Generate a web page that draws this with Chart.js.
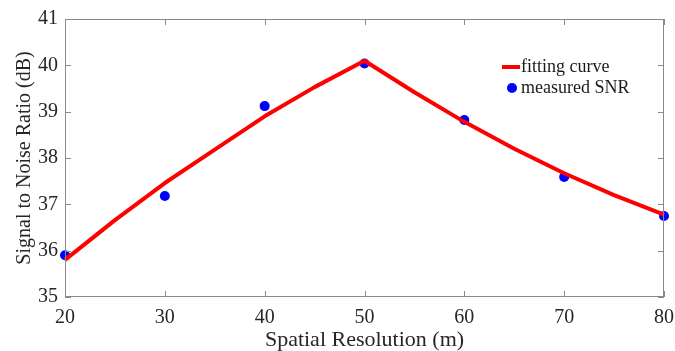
<!DOCTYPE html>
<html>
<head>
<meta charset="utf-8">
<script src="https://cdn.jsdelivr.net/npm/chart.js@4/dist/chart.umd.min.js"></script>
<style>
html,body{margin:0;padding:0;background:#fff;}
#wrap{width:675px;height:351px;position:relative;}
</style>
</head>
<body>
<div id="wrap"><canvas id="c" width="675" height="351"></canvas></div>
<script>
const resolution = [20, 30, 40, 50, 60, 70, 80];
const measuredSNR = [35.90, 37.18, 39.12, 40.04, 38.82, 37.59, 36.75];
const fitResolution = [20, 25, 30, 35, 40, 45, 50, 55, 60, 65, 70, 75, 80];
const fitSNR = [35.80, 36.66, 37.46, 38.18, 38.90, 39.53, 40.10, 39.42, 38.78, 38.20, 37.67, 37.20, 36.78];
const xTicks = [20, 30, 40, 50, 60, 70, 80];
const yTicks = [35, 36, 37, 38, 39, 40, 41];
const seriesNames = ['fitting curve', 'measured SNR'];

const FONT = "'Liberation Serif', 'Times New Roman', serif";

const boxPlugin = {
  id: 'boxTicks',
  afterDatasetsDraw(chart) {
    const {ctx, chartArea: a, scales: {x, y}} = chart;
    ctx.save();
    ctx.strokeStyle = '#8a8a8a';
    ctx.lineWidth = 1;
    ctx.strokeRect(a.left + 0.5, a.top + 0.5, a.right - a.left - 1, a.bottom - a.top - 1);
    const L = 6;
    ctx.beginPath();
    xTicks.forEach(v => {
      const px = Math.round(x.getPixelForValue(v)) + 0.5;
      ctx.moveTo(px, a.bottom); ctx.lineTo(px, a.bottom - L);
      ctx.moveTo(px, a.top); ctx.lineTo(px, a.top + L);
    });
    yTicks.forEach(v => {
      const py = Math.round(y.getPixelForValue(v)) + 0.5;
      ctx.moveTo(a.left, py); ctx.lineTo(a.left + L, py);
      ctx.moveTo(a.right, py); ctx.lineTo(a.right - L, py);
    });
    ctx.stroke();
    ctx.restore();
  },
  afterDraw(chart) {
    const {ctx} = chart;
    const ds = chart.data.datasets;
    ctx.save();
    ctx.font = '18px ' + FONT;
    ctx.fillStyle = '#1a1a1a';
    ctx.textBaseline = 'middle';
    const lx = 502, ly1 = 67, ly2 = 88;
    ctx.strokeStyle = ds[0].borderColor;
    ctx.lineWidth = 4;
    ctx.beginPath(); ctx.moveTo(lx, ly1); ctx.lineTo(lx + 18, ly1); ctx.stroke();
    ctx.fillText(ds[0].label, lx + 19, ly1);
    ctx.fillStyle = ds[1].backgroundColor;
    ctx.beginPath(); ctx.arc(lx + 10, ly2, 5, 0, Math.PI * 2); ctx.fill();
    ctx.fillStyle = '#1a1a1a';
    ctx.fillText(ds[1].label, lx + 19, ly2);
    ctx.restore();
  }
};

new Chart(document.getElementById('c'), {
  type: 'scatter',
  data: {
    datasets: [
      {
        label: seriesNames[0],
        data: fitResolution.map((v, i) => ({x: v, y: fitSNR[i]})),
        showLine: true,
        borderColor: '#ff0000',
        backgroundColor: '#ff0000',
        borderWidth: 4,
        borderJoinStyle: 'round',
        pointRadius: 0,
        tension: 0,
        clip: false
      },
      {
        label: seriesNames[1],
        data: resolution.map((v, i) => ({x: v, y: measuredSNR[i]})),
        showLine: false,
        borderColor: '#0000ff',
        backgroundColor: '#0000ff',
        pointRadius: 5,
        pointBorderWidth: 0,
        clip: false
      }
    ]
  },
  options: {
    responsive: false,
    animation: false,
    events: [],
    layout: {padding: {top: 19, right: 11, left: 0, bottom: 0}},
    plugins: {legend: {display: false}, tooltip: {enabled: false}},
    scales: {
      x: {
        type: 'linear', min: 20, max: 80,
        afterBuildTicks: s => { s.ticks = xTicks.map(v => ({value: v})); },
        afterFit: s => { s.height = 54; s.paddingLeft = 0; s.paddingRight = 0; },
        grid: {display: false, drawTicks: false},
        border: {display: false},
        ticks: {padding: 9, color: '#262626', font: {family: FONT, size: 20}},
        title: {display: true, text: 'Spatial Resolution (m)', color: '#262626',
                font: {family: FONT, size: 22, lineHeight: 1}, padding: {top: 0, bottom: 0}}
      },
      y: {
        type: 'linear', min: 35, max: 41,
        afterBuildTicks: s => { s.ticks = yTicks.map(v => ({value: v})); },
        afterFit: s => { s.width = 65; s.paddingTop = 0; s.paddingBottom = 0; },
        grid: {display: false, drawTicks: false},
        border: {display: false},
        ticks: {padding: 7, color: '#262626', font: {family: FONT, size: 20}},
        title: {display: true, text: 'Signal to Noise Ratio (dB)', color: '#262626',
                font: {family: FONT, size: 20, lineHeight: 1}, padding: {top: 15, bottom: 0}}
      }
    }
  },
  plugins: [boxPlugin]
});
</script>
</body>
</html>
